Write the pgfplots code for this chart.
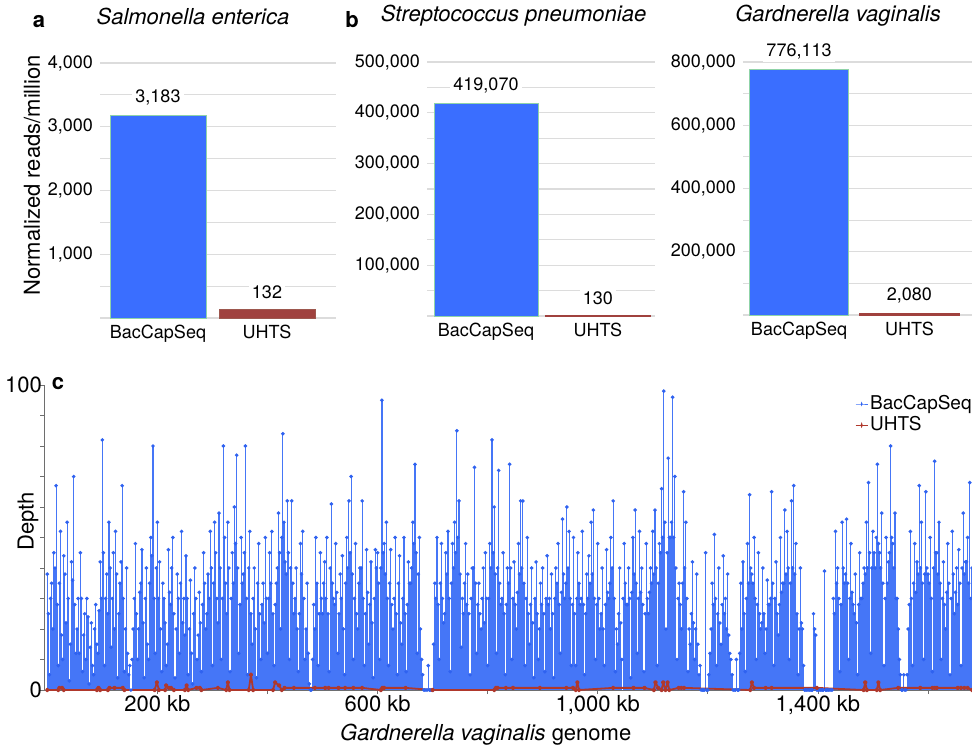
\documentclass[border=0pt]{standalone}
\usepackage{fontspec}
\setmainfont{TeX Gyre Heros}
\usepackage{pgfplots}
\pgfplotsset{compat=1.18}
\definecolor{barblue}{HTML}{3A6EFF}
\definecolor{barred}{HTML}{A0413E}
\definecolor{baredge}{HTML}{8FD3A8}
\definecolor{lineblue}{HTML}{4576F7}
\definecolor{markblue}{HTML}{2F62F0}
\definecolor{linered}{HTML}{B0382C}
\definecolor{gridc}{HTML}{DCDCDC}
\definecolor{axisgray}{HTML}{6E6E6E}
\pgfplotsset{
 barpanel/.style={
  scale only axis, anchor=south west, clip=false,
  ymin=0, xtick={0,1}, xticklabels={BacCapSeq,UHTS},
  ymajorgrids, yminorgrids,
  major grid style={gridc, line width=0.6pt}, minor grid style={gridc, line width=0.6pt},
  major tick length=0pt, minor tick length=0pt,
  axis lines*=left, axis line style={draw=none},
  scaled y ticks=false,
  tick label style={font=\fontsize{9}{10}\selectfont},
  /pgf/number format/assume math mode=true,
  yticklabel style={/pgf/number format/.cd, fixed, 1000 sep={,}},
  title style={font=\fontsize{11}{13}\selectfont\itshape, anchor=center},
 },
 valbar/.style={ybar, bar shift=0pt, fill=#1, draw=baredge, line width=0.35pt,
   nodes near coords={\pgfmathprintnumber[fixed,1000 sep={,},assume math mode=true]{\pgfplotspointmeta}},
   every node near coord/.append style={font=\fontsize{9}{10}\selectfont, fill=white, inner sep=1.5pt, yshift=3.5pt, text=black}},
}
\begin{document}
\begin{tikzpicture}
\useasboundingbox (0pt,0pt) rectangle (486pt,372.5pt);
% panel a
\begin{axis}[barpanel, at={(50pt,213.5pt)}, width=118pt, height=127.5pt,
  xmin=-0.532, xmax=1.633, ymax=4000,
  ytick={1000,2000,3000,4000}, minor ytick={0,500,1500,2500,3500},
  title={Salmonella enterica}, title style={at={(rel axis cs:0.394,1)}, yshift=17.5pt},
  ylabel={Normalized reads/million},
  every axis y label/.style={at={(rel axis cs:0,0.56)}, xshift=-34pt, rotate=90, anchor=center, font=\fontsize{11}{13}\selectfont}]
\addplot[valbar=barblue, bar width=0.88] coordinates {(0,3183)};
\addplot[valbar=barred, bar width=0.88, draw=barred!85!baredge] coordinates {(1,132)};
\end{axis}
% panel b
\begin{axis}[barpanel, at={(213.5pt,214.5pt)}, width=114pt, height=127pt,
  xmin=-0.527, xmax=1.51, ymax=500000,
  ytick={100000,200000,300000,400000,500000}, minor ytick={0,50000,150000,250000,350000,450000},
  title={Streptococcus pneumoniae}, title style={at={(rel axis cs:0.38,1)}, yshift=17pt}]
\addplot[valbar=barblue, bar width=0.93] coordinates {(0,419070)};
\addplot[valbar=barred, bar width=0.93, draw=barred, line width=0.8pt] coordinates {(1,130)};
\end{axis}
% panel c (top)
\begin{axis}[barpanel, at={(371.5pt,215pt)}, width=114.5pt, height=126.5pt,
  xmin=-0.507, xmax=1.566, ymax=800000,
  ytick={200000,400000,600000,800000}, minor ytick={0,100000,300000,500000,700000},
  title={Gardnerella vaginalis}, title style={at={(rel axis cs:0.415,1)}, yshift=17pt}]
\addplot[valbar=barblue, bar width=0.9] coordinates {(0,776113)};
\addplot[valbar=barred, bar width=0.9, draw=barred, line width=1pt] coordinates {(1,2080)};
\end{axis}
% bottom coverage panel
\begin{axis}[at={(22pt,27.5pt)}, anchor=south west, scale only axis, width=464pt, height=152.5pt,
  xmin=-6, xmax=1680, ymin=0, ymax=100,
  axis x line*=bottom, axis y line*=left,
  axis line style={draw=axisgray, line width=0.5pt, -},
  xtick={200,600,1000,1400}, xticklabels={200 kb,600 kb,{1,000 kb},{1,400 kb}},
  minor xtick={400,800,1200,1600},
  ytick={0,100}, minor ytick={10,20,30,40,50,60,70,80,90},
  tick align=outside, major tick length=2pt, minor tick length=2pt,
  tick style={axisgray, line width=0.4pt},
  /pgf/number format/assume math mode=true,
  tick label style={font=\fontsize{11}{13}\selectfont},
  xticklabel style={yshift=3pt},
  yticklabel style={xshift=4.5pt},
  xlabel={\textit{Gardnerella vaginalis} genome}, ylabel={Depth},
  every axis x label/.style={at={(rel axis cs:0.476,0)}, yshift=-22.5pt, anchor=center, font=\fontsize{11}{13}\selectfont},
  every axis y label/.style={at={(rel axis cs:0,0.554)}, xshift=-8pt, rotate=90, anchor=center, font=\fontsize{11}{13}\selectfont},
  legend style={at={(rel axis cs:1,1)}, anchor=north east, draw=none, fill=none, xshift=4pt, yshift=-2pt,
    font=\fontsize{9.5}{10}\selectfont, nodes={inner sep=1pt}},
  legend cell align=left, legend image post style={xscale=0.35}]
\addlegendimage{color=lineblue, line width=0.45pt, mark=*, mark size=0.55pt, mark options={fill=markblue, draw=markblue}}
\addlegendimage{color=linered, line width=0.6pt, mark=*, mark size=0.6pt, mark options={fill=linered, draw=linered}}
\addplot[forget plot, ycomb, color=lineblue, line width=0.55pt, mark=*, mark size=0.6pt, mark options={fill=markblue, draw=markblue}] coordinates {
(0,38)(4,5)(8,35)(12,45)(16,67)(20,8)(24,52)(28,10)(32,38)(36,55)(40,3)(44,42)(48,70)(52,12)(56,30)(60,45)(64,6)(68,25)(72,30)(76,2)(80,22)(84,5)(88,28)(92,12)(96,42)
(100,82)(104,8)(108,38)(112,55)(116,14)(120,45)(124,52)(128,4)(132,35)(136,67)(140,6)(144,40)(148,5)(152,0)(156,20)(160,48)(164,10)(168,32)(172,46)(176,4)(180,40)(184,10)(188,50)(192,80)(196,12)
(200,55)(204,42)(208,6)(212,30)(216,8)(220,46)(224,28)(228,50)(232,4)(236,38)(240,12)(244,52)(248,30)(252,44)(256,5)(260,36)(264,2)(268,40)(272,10)(276,32)(280,6)(284,45)(288,20)(292,38)(296,52)
(300,8)(304,55)(308,30)(312,58)(316,10)(320,80)(324,35)(328,55)(332,6)(336,45)(340,60)(344,77)(348,12)(352,50)(356,38)(360,80)(364,5)(368,52)(372,15)(376,40)(380,4)(384,48)(388,10)(392,35)(396,50)
(400,12)(404,45)(408,52)(412,8)(416,35)(420,58)(424,20)(428,84)(432,42)(436,62)(440,10)(444,62)(448,25)(452,40)(456,6)(460,48)(464,52)(468,10)(472,35)(476,2)(480,0)(484,28)(488,50)(492,8)(496,45)
(500,25)(504,42)(508,50)(512,6)(516,61)(520,30)(524,48)(528,12)(532,38)(536,44)(540,5)(544,50)(548,62)(552,70)(556,10)(560,48)(564,20)(568,40)(572,62)(576,8)(580,46)(584,15)(588,42)(592,4)(596,46)
(600,45)(604,10)(608,95)(612,48)(616,55)(620,8)(624,46)(628,20)(632,50)(636,5)(640,44)(644,15)(648,50)(652,6)(656,42)(660,35)(664,55)(668,74)(672,12)(676,50)(680,10)(684,0)(688,0)(692,8)(696,0)
(700,0)(704,35)(708,50)(712,10)(716,48)(720,22)(724,45)(728,52)(732,6)(736,48)(740,55)(744,85)(748,62)(752,14)(756,25)(760,48)(764,38)(768,5)(772,40)(776,73)(780,12)(784,35)(788,20)(792,40)(796,45)
(800,8)(804,48)(808,82)(812,60)(816,12)(820,72)(824,28)(828,45)(832,5)(836,40)(840,74)(844,10)(848,42)(852,20)(856,48)(860,62)(864,62)(868,8)(872,50)(876,15)(880,40)(884,4)(888,42)(892,10)(896,35)
(900,40)(904,6)(908,44)(912,30)(916,38)(920,4)(924,40)(928,48)(932,12)(936,56)(940,30)(944,60)(948,52)(952,8)(956,50)(960,8)(964,45)(968,28)(972,52)(976,5)(980,38)(984,44)(988,55)(992,59)(996,10)
(1000,48)(1004,20)(1008,40)(1012,8)(1016,46)(1020,30)(1024,50)(1028,62)(1032,6)(1036,15)(1040,40)(1044,10)(1048,48)(1052,28)(1056,40)(1060,4)(1064,50)(1068,59)(1072,12)(1076,52)(1080,40)(1084,6)(1088,48)(1092,25)(1096,40)
(1100,52)(1104,59)(1108,8)(1112,48)(1116,66)(1120,98)(1124,20)(1128,76)(1132,50)(1136,96)(1140,70)(1144,10)(1148,35)(1152,20)(1156,65)(1160,55)(1164,6)(1168,15)(1172,42)(1176,10)(1180,38)(1184,5)(1188,0)(1192,0)(1196,45)
(1200,0)(1204,12)(1208,35)(1212,51)(1216,8)(1220,40)(1224,15)(1228,44)(1232,30)(1236,38)(1240,12)(1244,5)(1248,0)(1252,10)(1256,0)(1260,35)(1264,42)(1268,6)(1272,48)(1276,64)(1280,38)(1284,50)(1288,10)(1292,45)(1296,20)
(1300,40)(1304,12)(1308,36)(1312,28)(1316,65)(1320,8)(1324,42)(1328,18)(1332,50)(1336,35)(1340,59)(1344,52)(1348,10)(1352,62)(1356,67)(1360,48)(1364,5)(1368,40)(1372,20)(1376,0)(1380,0)(1384,0)(1388,0)(1392,25)(1396,18)
(1400,0)(1404,0)(1408,0)(1412,39)(1416,0)(1420,0)(1424,0)(1428,30)(1432,52)(1436,40)(1440,6)(1444,55)(1448,35)(1452,56)(1456,10)(1460,48)(1464,28)(1468,38)(1472,5)(1476,45)(1480,30)(1484,40)(1488,55)(1492,68)(1496,12)
(1500,52)(1504,40)(1508,74)(1512,45)(1516,58)(1520,8)(1524,50)(1528,42)(1532,80)(1536,48)(1540,58)(1544,30)(1548,10)(1552,0)(1556,5)(1560,0)(1564,20)(1568,52)(1572,8)(1576,48)(1580,42)(1584,67)(1588,55)(1592,10)(1596,65)
(1600,38)(1604,50)(1608,6)(1612,75)(1616,45)(1620,55)(1624,10)(1628,42)(1632,20)(1636,48)(1640,5)(1644,52)(1648,25)(1652,40)(1656,46)(1660,8)(1664,58)(1668,42)(1672,50)(1676,68)(1680,40)
(2,25)(6,30)(10,20)(14,40)(18,28)(22,35)(26,18)(30,44)(34,22)(38,30)(42,15)(46,36)(50,28)(54,20)(58,12)(62,30)(66,18)(70,10)(74,24)(78,14)(82,8)(86,20)(90,15)(94,26)(98,30)
(102,45)(106,30)(110,25)(114,40)(118,30)(122,20)(126,38)(130,25)(134,42)(138,30)(142,20)(146,12)(150,8)(154,10)(158,30)(162,25)(166,20)(170,35)(174,22)(178,30)(182,15)(186,35)(190,44)(194,30)(198,40)
(202,30)(206,20)(210,35)(214,22)(218,15)(222,32)(226,40)(230,25)(234,20)(238,30)(242,35)(246,22)(250,18)(254,30)(258,20)(262,12)(266,25)(270,30)(274,18)(278,22)(282,28)(286,35)(290,25)(294,30)(298,40)
(302,35)(306,45)(310,22)(314,40)(318,30)(322,50)(326,25)(330,40)(334,30)(338,35)(342,48)(346,40)(350,28)(354,35)(358,45)(362,30)(366,40)(370,25)(374,30)(378,20)(382,35)(386,25)(390,28)(394,22)(398,30)
(402,30)(406,35)(410,25)(414,28)(418,40)(422,45)(426,50)(430,55)(434,38)(438,45)(442,40)(446,35)(450,30)(454,20)(458,25)(462,38)(466,30)(470,20)(474,12)(478,0)(482,10)(486,20)(490,35)(494,25)(498,30)
(502,35)(506,30)(510,25)(514,40)(518,35)(522,28)(526,32)(530,25)(534,30)(538,20)(542,35)(546,40)(550,45)(554,38)(558,30)(562,25)(566,35)(570,40)(574,30)(578,25)(582,32)(586,28)(590,22)(594,30)(598,40)
(602,35)(606,40)(610,45)(614,38)(618,30)(622,35)(626,28)(630,30)(634,25)(638,35)(642,22)(646,30)(650,25)(654,28)(658,35)(662,40)(666,48)(670,45)(674,38)(678,20)(682,5)(686,0)(690,0)(694,0)(698,0)
(702,15)(706,30)(710,28)(714,35)(718,30)(722,25)(726,38)(730,30)(734,35)(738,40)(742,45)(746,50)(750,38)(754,30)(758,35)(762,28)(766,25)(770,30)(774,40)(778,35)(782,28)(786,25)(790,30)(794,22)(798,30)
(802,30)(806,40)(810,45)(814,38)(818,40)(822,35)(826,30)(830,25)(834,28)(838,35)(842,40)(846,30)(850,28)(854,32)(858,38)(862,40)(866,35)(870,30)(874,25)(878,28)(882,22)(886,30)(890,25)(894,20)(898,28)
(902,25)(906,30)(910,28)(914,20)(918,25)(922,30)(926,35)(930,28)(934,32)(938,38)(942,35)(946,40)(950,30)(954,28)(958,25)(962,30)(966,35)(970,30)(974,28)(978,25)(982,30)(986,35)(990,38)(994,30)(998,28)
(1002,30)(1006,25)(1010,20)(1014,28)(1018,32)(1022,35)(1026,40)(1030,30)(1034,20)(1038,25)(1042,22)(1046,30)(1050,35)(1054,28)(1058,30)(1062,32)(1066,38)(1070,35)(1074,30)(1078,32)(1082,28)(1086,25)(1090,30)(1094,32)(1098,35)
(1102,38)(1106,40)(1110,35)(1114,45)(1118,50)(1122,55)(1126,45)(1130,50)(1134,55)(1138,50)(1142,40)(1146,30)(1150,28)(1154,35)(1158,40)(1162,30)(1166,20)(1170,25)(1174,22)(1178,20)(1182,15)(1186,8)(1190,0)(1194,0)(1198,0)
(1202,5)(1206,20)(1210,28)(1214,30)(1218,25)(1222,22)(1226,28)(1230,25)(1234,20)(1238,18)(1242,10)(1246,0)(1250,0)(1254,0)(1258,12)(1262,20)(1266,25)(1270,30)(1274,35)(1278,40)(1282,35)(1286,30)(1290,28)(1294,25)(1298,22)
(1302,25)(1306,20)(1310,28)(1314,30)(1318,35)(1322,30)(1326,25)(1330,28)(1334,32)(1338,35)(1342,38)(1346,40)(1350,35)(1354,40)(1358,38)(1362,25)(1366,20)(1370,22)(1374,8)(1378,0)(1382,0)(1386,0)(1390,0)(1394,20)(1398,0)
(1402,0)(1406,0)(1410,0)(1414,0)(1418,0)(1422,0)(1426,0)(1430,25)(1434,35)(1438,30)(1442,28)(1446,40)(1450,38)(1454,35)(1458,30)(1462,32)(1466,25)(1470,22)(1474,28)(1478,30)(1482,35)(1486,38)(1490,40)(1494,45)(1498,40)
(1502,45)(1506,50)(1510,48)(1514,40)(1518,35)(1522,30)(1526,35)(1530,45)(1534,50)(1538,40)(1542,30)(1546,20)(1550,5)(1554,0)(1558,0)(1562,5)(1566,28)(1570,30)(1574,35)(1578,32)(1582,38)(1586,40)(1590,35)(1594,38)(1598,40)
(1602,35)(1606,30)(1610,40)(1614,45)(1618,38)(1622,35)(1626,30)(1630,28)(1634,32)(1638,35)(1642,30)(1646,38)(1650,32)(1654,28)(1658,35)(1662,40)(1666,38)(1670,42)(1674,35)(1678,30)
};
\addplot[forget plot, color=linered, line width=0.9pt, line join=round, mark=*, mark size=0.7pt, mark options={fill=linered, draw=linered}] coordinates {
(0,0)(20,0)(22,0.7)(27,0.7)(30,0)(90,0)(93,0.7)(96,0)(110,0)(113,0.7)(122,0.7)(137,0.7)(140,0)(195,0)(199,2.5)(203,0)(214,0)(216,1.5)(221,0.7)(225,0.7)(230,0)(250,0)(253,1.5)(256,0)(271,0.7)(277,0.7)(280,0)(310,0.7)(325,0)(328,2.5)(331,0)(366,0)(370,5)(374,0)(410,0)(414,2.5)(421,1.5)(426,0)(431,0.7)(448,0.7)(486,0.7)(505,0.7)(511,0.7)(529,0.7)(541,0.7)(556,0.7)(572,0.7)(606,0)(609,0.7)(612,0.7)(651,0.7)(700,0)(812,0)(815,0.7)(818,0.7)(833,0.7)(846,0.7)(895,0.7)(943,0.7)(955,0.7)(960,0)(963,2.5)(966,0)(1028,0.7)(1065,0.7)(1085,0.7)(1102,0)(1105,2.5)(1110,0.7)(1116,0)(1119,2.5)(1123,0)(1127,2.5)(1130,0)(1147,0.7)(1152,0.7)(1157,0.7)(1277,0)(1280,2.5)(1284,0.7)(1305,0.7)(1316,0.7)(1398,0.7)(1483,0)(1486,2.5)(1489,0)(1507,0)(1510,2.5)(1513,0)(1546,0.7)(1586,0.7)(1608,0.7)(1612,0.7)(1616,0.7)(1654,0.7)(1660,0.7)(1666,0.7)(1672,0.7)(1680,0)
};
\legend{BacCapSeq,UHTS}
\end{axis}
\node[font=\bfseries\fontsize{11}{13}\selectfont] at (19.5pt,361.5pt) {a};
\node[font=\bfseries\fontsize{11}{13}\selectfont] at (176pt,362.5pt) {b};
\node[font=\bfseries\fontsize{11}{13}\selectfont] at (29pt,180.5pt) {c};
\end{tikzpicture}
\end{document}
